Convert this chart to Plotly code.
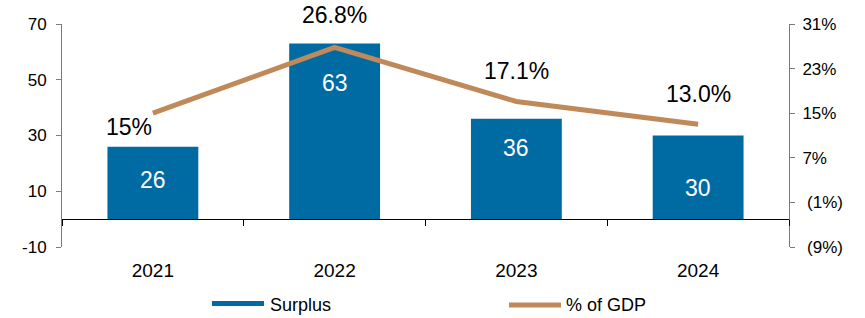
import plotly.graph_objects as go

# ---- data ----
categories = ["2021", "2022", "2023", "2024"]
surplus = [26, 63, 36, 30]
surplus_labels = ["26", "63", "36", "30"]
gdp_pct = [15.0, 26.8, 17.1, 13.0]
gdp_labels = ["15%", "26.8%", "17.1%", "13.0%"]

left_ticks = [-10, 10, 30, 50, 70]
left_ticktext = ["-10", "10", "30", "50", "70"]
right_ticks = [-9, -1, 7, 15, 23, 31]
right_ticktext = ["\u00a0(9%)", "\u00a0(1%)", "7%", "15%", "23%", "31%"]

# ---- styles ----
BAR_COLOR = "#006BA3"
LINE_COLOR = "#C0895A"
FONT = "Arial, Liberation Sans, sans-serif"
AXIS_GRAY = "#7a7a7a"

# label offsets (pixels) for value labels
bar_label_drop = [33, 39, 29, 52]
line_label_shift = [(-24, -14), (0, 32), (0, 30), (0, 30)]

fig = go.Figure()
fig.add_trace(go.Bar(
    x=categories, y=surplus, name="Surplus",
    marker=dict(color=BAR_COLOR, line=dict(width=0)),
    width=0.5, yaxis="y", showlegend=False,
))
fig.add_trace(go.Scatter(
    x=categories, y=gdp_pct, name="% of GDP", mode="lines",
    line=dict(color=LINE_COLOR, width=5), yaxis="y2", showlegend=False,
))

annotations = []
for i, (v, t, d) in enumerate(zip(surplus, surplus_labels, bar_label_drop)):
    annotations.append(dict(x=i, y=v, xref="x", yref="y", text=t, showarrow=False,
                            yanchor="middle", yshift=-d,
                            font=dict(family=FONT, size=23, color="white")))
for i, (v, t, (dx, dy)) in enumerate(zip(gdp_pct, gdp_labels, line_label_shift)):
    annotations.append(dict(x=i, y=v, xref="x", yref="y2", text=t, showarrow=False,
                            yanchor="middle", xshift=dx, yshift=dy,
                            font=dict(family=FONT, size=23, color="black")))

# custom legend
W, H, L, R = 865, 318, 62, 76
T, B = 24, 71
pw = W - L - R
ph = H - T - B
def px_x(p):
    return (p - L) / pw
def px_y(p):
    return (H - B - p) / ph

shapes = [
    dict(type="rect", xref="paper", yref="paper",
         x0=px_x(212), x1=px_x(264), y0=px_y(306), y1=px_y(301),
         fillcolor=BAR_COLOR, line=dict(width=0)),
    dict(type="line", xref="paper", yref="paper",
         x0=px_x(509), x1=px_x(561), y0=px_y(305), y1=px_y(305),
         line=dict(color=LINE_COLOR, width=5)),
]
annotations.append(dict(x=px_x(268), y=px_y(305), xref="paper", yref="paper",
                        text="Surplus", showarrow=False, xanchor="left", yanchor="middle",
                        font=dict(family=FONT, size=18, color="black")))
annotations.append(dict(x=px_x(564), y=px_y(305), xref="paper", yref="paper",
                        text="% of GDP", showarrow=False, xanchor="left", yanchor="middle",
                        font=dict(family=FONT, size=18, color="black")))

zero_pos = (0 - left_ticks[0]) / (left_ticks[-1] - left_ticks[0])

fig.update_layout(
    width=W, height=H,
    margin=dict(l=L, r=R, t=T, b=B, pad=0, autoexpand=False),
    paper_bgcolor="white", plot_bgcolor="white",
    font=dict(family=FONT, color="black"),
    showlegend=False,
    xaxis=dict(
        type="category", categoryorder="array", categoryarray=categories,
        anchor="free", position=zero_pos, automargin=False,
        showline=True, linecolor="black", linewidth=1,
        ticks="outside", tickson="boundaries", ticklen=6, tickcolor="black", tickwidth=1,
        tickfont=dict(size=19, family=FONT, color="black"),
        ticklabelstandoff=34,
        showgrid=False, zeroline=False,
        range=[-0.5, len(categories) - 0.5],
    ),
    yaxis=dict(
        range=[left_ticks[0], left_ticks[-1]], tickmode="array",
        tickvals=left_ticks, ticktext=left_ticktext, automargin=False,
        showline=True, linecolor=AXIS_GRAY, linewidth=1,
        ticks="outside", ticklen=5, tickcolor=AXIS_GRAY,
        tickfont=dict(size=17, family=FONT, color="black"),
        ticklabelstandoff=6,
        showgrid=False, zeroline=False,
    ),
    yaxis2=dict(
        overlaying="y", side="right", anchor="x", automargin=False,
        range=[right_ticks[0], right_ticks[-1]], tickmode="array",
        tickvals=right_ticks, ticktext=right_ticktext,
        showline=True, linecolor=AXIS_GRAY, linewidth=1,
        ticks="outside", ticklen=5, tickcolor=AXIS_GRAY,
        tickfont=dict(size=17, family=FONT, color="black"),
        ticklabelstandoff=4,
        showgrid=False, zeroline=False,
    ),
    annotations=annotations,
    shapes=shapes,
)

fig.write_html(
    "out.html",
    config={"displayModeBar": False},
    post_script="document.body.style.margin='0';document.body.style.padding='0';",
)
